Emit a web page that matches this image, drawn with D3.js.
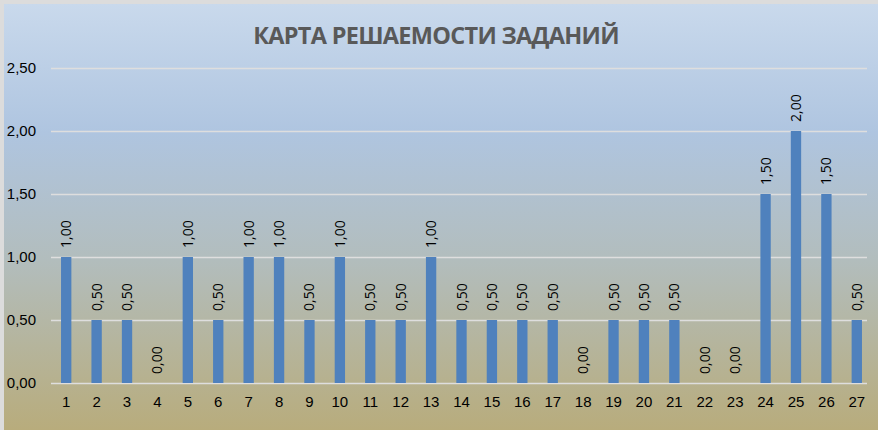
<!DOCTYPE html>
<html>
<head>
<meta charset="utf-8">
<script src="https://cdn.jsdelivr.net/npm/d3@7"></script>
<style>
  body { margin: 0; background: #dcdcdc; }
  svg { display: block; }
</style>
</head>
<body>
<div class="chart"></div>
<script>
// Data
var tasks = d3.range(1, 28).map(String);
var scores = [1, 0.5, 0.5, 0, 1, 0.5, 1, 1, 0.5, 1, 0.5, 0.5, 1, 0.5, 0.5, 0.5, 0.5, 0, 0.5, 0.5, 0.5, 0, 0, 1.5, 2, 1.5, 0.5];
var yTicks = [0, 0.5, 1, 1.5, 2, 2.5];
var title = "КАРТА РЕШАЕМОСТИ ЗАДАНИЙ";

var svgWidth = 878;
var svgHeight = 430;

var margin = { top: 68, right: 6, bottom: 47, left: 51 };
var chartWidth = svgWidth - margin.left - margin.right;
var chartHeight = svgHeight - margin.top - margin.bottom;

var fmt = function(v) { return d3.format(".2f")(v).replace(".", ","); };

var svg = d3.select(".chart")
  .append("svg")
  .attr("width", svgWidth)
  .attr("height", svgHeight)
  .style("font-family", "'Open Sans', 'Noto Sans', sans-serif");

// background gradient of the chart area
var defs = svg.append("defs");
var grad = defs.append("linearGradient")
  .attr("id", "bg")
  .attr("x1", 0).attr("y1", 0).attr("x2", 0).attr("y2", 1);
grad.append("stop").attr("offset", "0%").attr("stop-color", "#c9d9ec");
grad.append("stop").attr("offset", "30%").attr("stop-color", "#afc5e0");
grad.append("stop").attr("offset", "60%").attr("stop-color", "#b2bdbd");
grad.append("stop").attr("offset", "100%").attr("stop-color", "#b8ac7c");

svg.append("rect")
  .attr("x", 4).attr("y", 4)
  .attr("width", svgWidth - 4).attr("height", svgHeight - 4)
  .attr("fill", "url(#bg)");

// title
svg.append("text")
  .attr("x", 436)
  .attr("y", 44)
  .attr("text-anchor", "middle")
  .attr("font-size", "23.5px")
  .attr("font-weight", "bold")
  .attr("fill", "#595959")
  .attr("letter-spacing", "-0.7")
  .text(title);

var chartGroup = svg.append("g")
  .attr("transform", `translate(${margin.left}, ${margin.top})`);

var xScale = d3.scaleBand()
  .domain(tasks)
  .range([0, chartWidth])
  .paddingInner(0.66)
  .paddingOuter(0.33);

var yScale = d3.scaleLinear()
  .domain([0, 2.5])
  .range([chartHeight, 0]);

// gridlines + y labels
var leftAxis = d3.axisLeft(yScale)
  .tickValues(yTicks)
  .tickSize(-chartWidth + 5)
  .tickPadding(15)
  .tickFormat(fmt);

var yAxis = chartGroup.append("g").call(leftAxis);
yAxis.select(".domain").remove();
yAxis.selectAll("line").attr("stroke", "#dedede").attr("stroke-width", 1.5);
yAxis.selectAll("text")
  .attr("fill", "#000")
  .attr("font-size", "15px");

// x labels
var bottomAxis = d3.axisBottom(xScale).tickSize(0).tickPadding(13);
var xAxis = chartGroup.append("g")
  .attr("transform", `translate(0, ${chartHeight})`)
  .call(bottomAxis);
xAxis.select(".domain").remove();
xAxis.selectAll("text")
  .attr("fill", "#000")
  .attr("font-size", "15px");

// bars
chartGroup.selectAll(".bar")
  .data(scores)
  .enter()
  .append("rect")
  .attr("class", "bar")
  .attr("x", (d, i) => xScale(tasks[i]))
  .attr("y", d => yScale(d))
  .attr("width", xScale.bandwidth())
  .attr("height", d => chartHeight - yScale(d))
  .attr("fill", "#4f81bd");

// value labels, rotated
chartGroup.selectAll(".lbl")
  .data(scores)
  .enter()
  .append("text")
  .attr("class", "lbl")
  .attr("transform", (d, i) =>
    `translate(${xScale(tasks[i]) + xScale.bandwidth() / 2 + 5}, ${yScale(d) - 9}) rotate(-90)`)
  .attr("font-size", "14px")
  .attr("fill", "#000")
  .text(d => fmt(d));
</script>
</body>
</html>
